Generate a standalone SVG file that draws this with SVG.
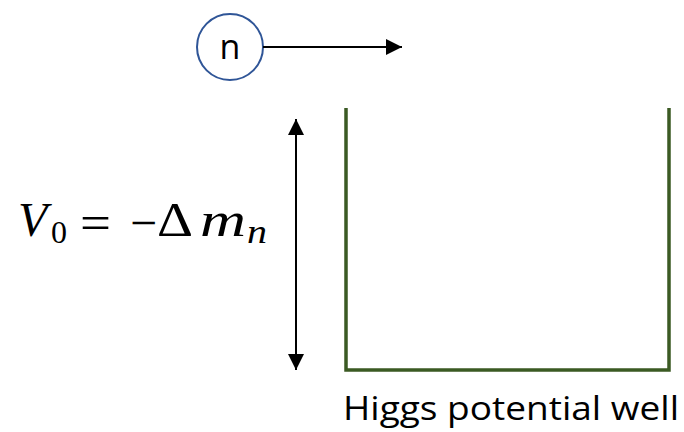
<svg xmlns="http://www.w3.org/2000/svg" width="684" height="432" viewBox="0 0 684 432">
<style>
.m{font-family:"Liberation Serif","DejaVu Serif",serif;fill:#000}
.i{font-style:italic}
.lbl{font-family:"Open Sans","Noto Sans",sans-serif;fill:#000}
</style>
<defs>
<marker id="ah2" viewBox="0 0 10 10" refX="10" refY="5" markerWidth="16" markerHeight="16" markerUnits="userSpaceOnUse" orient="auto-start-reverse">
<path d="M0,0 L10,5 L0,10 z" fill="#000"/>
</marker>
</defs>
<g id="neutron">
<ellipse cx="230" cy="47" rx="33" ry="33" fill="#fff" stroke="#2f5597" stroke-width="2"/>
<text x="230" y="59" class="lbl" font-size="34" text-anchor="middle">n</text>
</g>
<g id="well">
<path d="M346,108 V370 H669 V108" fill="none" stroke="#3b5a23" stroke-width="3.5"/>
<text x="343" y="420" class="lbl" font-size="32" textLength="336" lengthAdjust="spacingAndGlyphs">Higgs potential well</text>
</g>
<g id="equation">
<text x="18" y="236" class="m i" font-size="48">V</text>
<text x="51" y="243" class="m" font-size="32">0</text>
<text x="80" y="239" class="m" font-size="48" textLength="31" lengthAdjust="spacingAndGlyphs">=</text>
<text x="130" y="239" class="m" font-size="48" textLength="27" lengthAdjust="spacingAndGlyphs">−</text>
<text x="157" y="236" class="m" font-size="48" textLength="36" lengthAdjust="spacingAndGlyphs">Δ</text>
<text x="200" y="236" class="m i" font-size="48" textLength="46" lengthAdjust="spacingAndGlyphs">m</text>
<text x="247" y="243" class="m i" font-size="33" textLength="20" lengthAdjust="spacingAndGlyphs">n</text>
</g>
<g id="connectors">
<line x1="263" y1="47" x2="402" y2="47" stroke="#000" stroke-width="2" marker-end="url(#ah2)"/>
<line x1="296" y1="119" x2="296" y2="370" stroke="#000" stroke-width="2" marker-start="url(#ah2)" marker-end="url(#ah2)"/>
</g>
</svg>
